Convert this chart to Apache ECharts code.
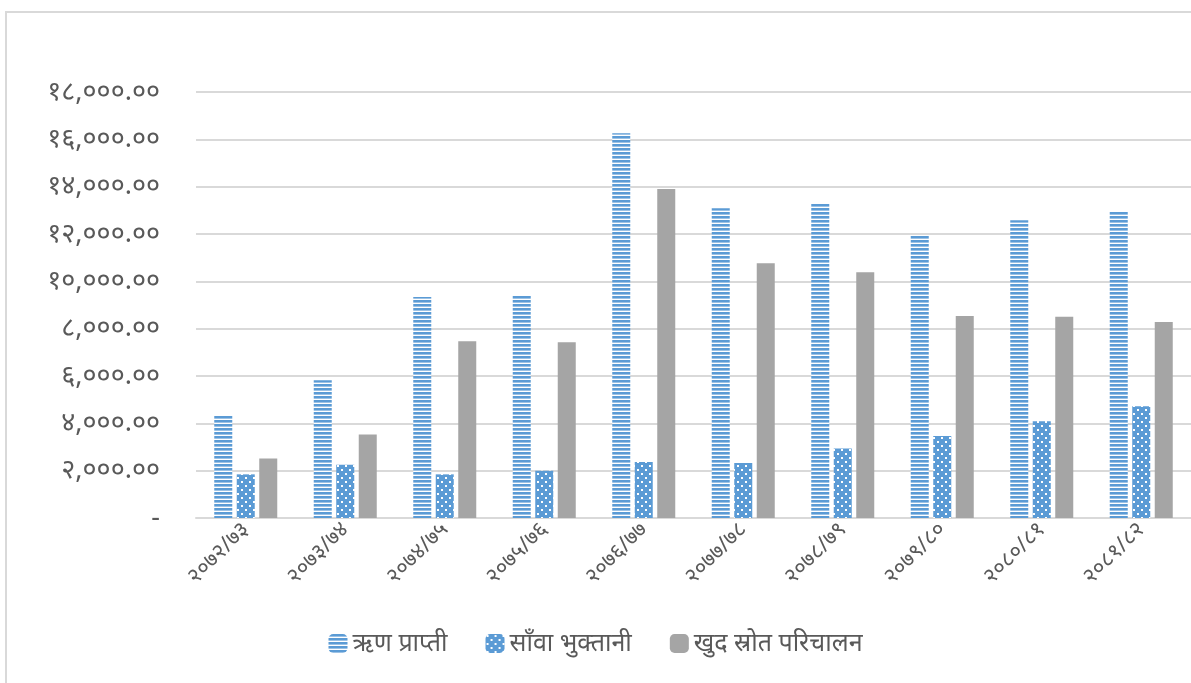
<!DOCTYPE html>
<html>
<head>
<meta charset="utf-8">
<script src="https://cdn.jsdelivr.net/npm/echarts@6/dist/echarts.min.js"></script>
<style>
html,body{margin:0;padding:0;background:#fff;}
#chart{width:1191px;height:683px;}
</style>
</head>
<body>
<div id="chart"></div>
<script>
var categories = ['२०७२/७३','२०७३/७४','२०७४/७५','२०७५/७६','२०७६/७७','२०७७/७८','२०७८/७९','२०७९/८०','२०८०/८१','२०८१/८२'];
var seriesNames = ['ऋण प्राप्ती','साँवा भुक्तानी','खुद स्रोत परिचालन'];
var loanReceived = [4316, 5822, 9337, 9379, 16253, 13088, 13269, 11961, 12581, 12931];
var principalRepaid = [1844, 2249, 1844, 1996, 2363, 2321, 2941, 3460, 4092, 4725];
var netMobilized = [2519, 3531, 7468, 7426, 13902, 10767, 10387, 8531, 8501, 8278];
var yTickLabels = ['-','२,०००.००','४,०००.००','६,०००.००','८,०००.००','१०,०००.००','१२,०००.००','१४,०००.००','१६,०००.००','१८,०००.००'];

var FONT = "'Noto Sans','Noto Sans Devanagari','Lohit Devanagari','DejaVu Sans',sans-serif";

function stripePattern(){
  var c = document.createElement('canvas');
  c.width = 4; c.height = 4;
  var g = c.getContext('2d');
  g.fillStyle = '#ffffff'; g.fillRect(0,0,4,4);
  g.fillStyle = '#5B9BD5'; g.fillRect(0,0,4,2.6);
  return c;
}
function dotPattern(){
  var c = document.createElement('canvas');
  c.width = 8; c.height = 8;
  var g = c.getContext('2d');
  g.fillStyle = '#5B9BD5'; g.fillRect(0,0,8,8);
  g.fillStyle = '#ffffff';
  g.fillRect(1,1,2,2);
  g.fillRect(5,5,2,2);
  return c;
}

var chart = echarts.init(document.getElementById('chart'));
chart.setOption({
  backgroundColor: '#ffffff',
  animation: false,
  graphic: [{
    type: 'rect', silent: true, z: -10,
    shape: {x: 6, y: 12, width: 1220, height: 700},
    style: {fill: 'none', stroke: '#d9d9d9', lineWidth: 2}
  }],
  grid: {left: 196, top: 92, width: 1008, height: 426, containLabel: false},
  legend: {
    left: 'center', top: 626,
    itemWidth: 19, itemHeight: 19, itemGap: 38,
    textStyle: {color: '#595959', fontSize: 25, fontFamily: FONT},
    data: seriesNames
  },
  xAxis: {
    type: 'category',
    data: categories,
    axisLine: {show: true, lineStyle: {color: '#d9d9d9', width: 2}},
    axisTick: {show: false},
    axisLabel: {rotate: 45, color: '#595959', fontSize: 22, fontFamily: FONT, margin: 8, interval: 0}
  },
  yAxis: {
    type: 'value',
    min: 0, max: 18000, interval: 2000,
    axisLine: {show: false},
    axisTick: {show: false},
    splitLine: {lineStyle: {color: '#d9d9d9', width: 2}},
    axisLabel: {
      color: '#595959', fontSize: 27, fontFamily: FONT, margin: 36,
      formatter: function(v){ return yTickLabels[Math.round(v/2000)]; }
    }
  },
  series: [
    {name: seriesNames[0], type: 'bar', data: loanReceived, barWidth: 18, barGap: '25%',
     itemStyle: {color: {image: stripePattern(), repeat: 'repeat'}}},
    {name: seriesNames[1], type: 'bar', data: principalRepaid, barWidth: 18, barGap: '25%',
     itemStyle: {color: {image: dotPattern(), repeat: 'repeat'}}},
    {name: seriesNames[2], type: 'bar', data: netMobilized, barWidth: 18, barGap: '25%',
     itemStyle: {color: '#A5A5A5'}}
  ]
});
</script>
</body>
</html>
